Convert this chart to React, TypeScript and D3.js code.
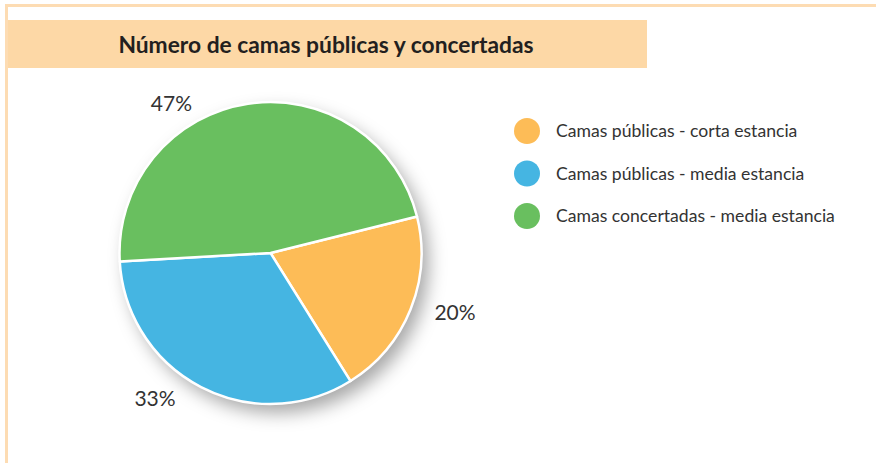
import React, { useEffect, useRef } from 'react';
import * as d3 from 'd3';

const categories = [
  'Camas públicas - corta estancia',
  'Camas públicas - media estancia',
  'Camas concertadas - media estancia',
];
const values = [20, 33, 47];
const labels = ['20%', '33%', '47%'];
const colors = ['#fdbc57', '#45b5e2', '#69bf5f'];
const title = 'Número de camas públicas y concertadas';

const width = 876;
const height = 463;

const App = () => {
  const svgRef = useRef<SVGSVGElement>(null);

  useEffect(() => {
    const svg = d3.select(svgRef.current);
    svg.selectAll('*').remove();

    // frame lines
    svg.append('rect').attr('x', 5).attr('y', 4).attr('width', width - 5).attr('height', 3).attr('fill', '#fddcb3');
    svg.append('rect').attr('x', 5).attr('y', 4).attr('width', 3).attr('height', height - 4).attr('fill', '#fddcb3');

    // title band
    svg.append('rect').attr('x', 8).attr('y', 20).attr('width', 639).attr('height', 48).attr('fill', '#fdd8a6');
    svg.append('text')
      .attr('x', 326)
      .attr('y', 53)
      .attr('text-anchor', 'middle')
      .style('font-family', 'Lato, sans-serif')
      .style('font-weight', 700)
      .style('font-size', '22.8px')
      .style('fill', '#231f20')
      .text(title);

    const defs = svg.append('defs');
    const filter = defs.append('filter').attr('id', 'pieShadow')
      .attr('x', '-30%').attr('y', '-30%').attr('width', '160%').attr('height', '160%');
    filter.append('feDropShadow')
      .attr('dx', 7).attr('dy', 9).attr('stdDeviation', 9)
      .attr('flood-color', '#000').attr('flood-opacity', 0.35);

    const cx = 270.5;
    const cy = 253;
    const radius = 151;
    const startAngle = (76 / 180) * Math.PI;

    const pie = d3.pie<number>()
      .sort(null)
      .value(d => d)
      .startAngle(startAngle)
      .endAngle(startAngle + 2 * Math.PI);
    const arcs = pie(values);
    const arc = d3.arc<d3.PieArcDatum<number>>().innerRadius(0).outerRadius(radius);

    const g = svg.append('g').attr('transform', `translate(${cx},${cy})`);

    // shadow disc underneath
    g.append('circle').attr('r', radius).attr('fill', '#fff').attr('filter', 'url(#pieShadow)');

    g.selectAll('path.slice')
      .data(arcs)
      .enter()
      .append('path')
      .attr('class', 'slice')
      .attr('d', arc)
      .attr('fill', (_, i) => colors[i])
      .attr('stroke', '#fff')
      .attr('stroke-width', 2.5)
      .attr('stroke-linejoin', 'round');

    // percentage labels outside the pie (angle shift in degrees, distance from centre)
    const labelShift = [-4, 11, -25];
    const labelDist = [194, 186, 179];
    const labelPos = (d: d3.PieArcDatum<number>, i: number) => {
      const a = (d.startAngle + d.endAngle) / 2 + (labelShift[i] * Math.PI) / 180;
      return [Math.sin(a) * labelDist[i], -Math.cos(a) * labelDist[i]];
    };
    g.selectAll('text.pct')
      .data(arcs)
      .enter()
      .append('text')
      .attr('class', 'pct')
      .attr('x', (d, i) => labelPos(d, i)[0])
      .attr('y', (d, i) => labelPos(d, i)[1])
      .attr('text-anchor', 'middle')
      .attr('dy', '0.35em')
      .style('font-family', 'Lato, sans-serif')
      .style('font-size', '21px')
      .style('fill', '#333')
      .text((_, i) => labels[i]);

    // legend
    const legend = svg.append('g').attr('transform', 'translate(527,131)');
    const rows = legend.selectAll('g.row')
      .data(categories)
      .enter()
      .append('g')
      .attr('class', 'row')
      .attr('transform', (_, i) => `translate(0,${i * 42.5})`);
    rows.append('circle').attr('r', 13).attr('fill', (_, i) => colors[i]);
    rows.append('text')
      .attr('x', 29)
      .attr('dy', '0.35em')
      .style('font-family', 'Lato, sans-serif')
      .style('font-size', '17.6px')
      .style('fill', '#333')
      .text(d => d);
  }, []);

  return (
    <svg
      ref={svgRef}
      width={width}
      height={height}
      style={{ position: 'absolute', left: 0, top: 0, background: '#fff' }}
    />
  );
};

export default App;
